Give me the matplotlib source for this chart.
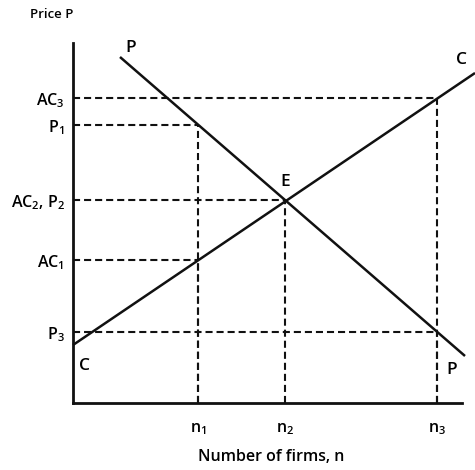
import matplotlib
matplotlib.use("Agg")
import matplotlib.pyplot as plt

plt.rcParams.update({
    "font.family": ["Open Sans", "DejaVu Sans"],
    "mathtext.default": "regular",
    "font.size": 11,
})

# data (axis units, origin at the corner of the axes)
n_labels = [r"n$_1$", r"n$_2$", r"n$_3$"]
n_vals = [125, 212, 364]
price_labels = [r"P$_3$", r"AC$_1$", r"AC$_2$, P$_2$", r"P$_1$", r"AC$_3$"]
price_vals = [71, 143, 203, 278, 305]
# curve CC (average cost) and PP (price) end points
cc_x = [0, 402]
cc_y = [58, 330]
pp_x = [47, 392]
pp_y = [346, 47]
# dashed guides: (n, price) pairs of the points
guide_n = [125, 125, 212, 364, 364]
guide_p = [278, 143, 203, 305, 71]

INK = "#111111"
DASH = (0, (3.4, 1.9))

fig = plt.figure(figsize=(4.75, 4.70), dpi=100)
ax = fig.add_axes([73 / 475, 67 / 470, 389 / 475, 360 / 470])
ax.set_xlim(0, 389)
ax.set_ylim(0, 360)

for n, p in zip(guide_n, guide_p):
    ax.plot([0, n], [p, p], color=INK, lw=1.5, ls=DASH, clip_on=False)
    ax.plot([n, n], [0, p], color=INK, lw=1.5, ls=DASH, clip_on=False)

ax.plot(cc_x, cc_y, color=INK, lw=1.8, clip_on=False, solid_capstyle="butt")
ax.plot(pp_x, pp_y, color=INK, lw=1.8, clip_on=False, solid_capstyle="butt")

# curve labels
lab = dict(fontsize=12.5, ha="center", va="center", fontweight="semibold")
ax.text(pp_x[0] + 11, pp_y[0] + 9, "P", **lab)
ax.text(pp_x[1] - 13, pp_y[1] - 14, "P", **lab)
ax.text(cc_x[0] + 11, cc_y[0] - 21, "C", **lab)
ax.text(cc_x[1] - 13, cc_y[1] + 13, "C", **lab)
ax.text(n_vals[1], 221, "E", **lab)

for s in ("top", "right"):
    ax.spines[s].set_visible(False)
for s in ("left", "bottom"):
    ax.spines[s].set_linewidth(2.0)
    ax.spines[s].set_color(INK)

ax.set_yticks(price_vals)
ax.set_yticklabels(price_labels, fontweight="semibold")
ax.set_xticks(n_vals)
ax.set_xticklabels(n_labels, fontweight="semibold")
ax.tick_params(axis="y", length=0, pad=6, labelsize=11.5)
ax.tick_params(axis="x", length=0, pad=13, labelsize=11.5)

fig.text(52 / 475, 1 - 15 / 470, "Price P", fontsize=9.5, ha="center",
         va="center", fontweight="semibold")
fig.text(271 / 475, 1 - 457 / 470, "Number of firms, n", fontsize=11.5,
         ha="center", va="center", fontweight="semibold")

fig.savefig("out.png", dpi=100)
